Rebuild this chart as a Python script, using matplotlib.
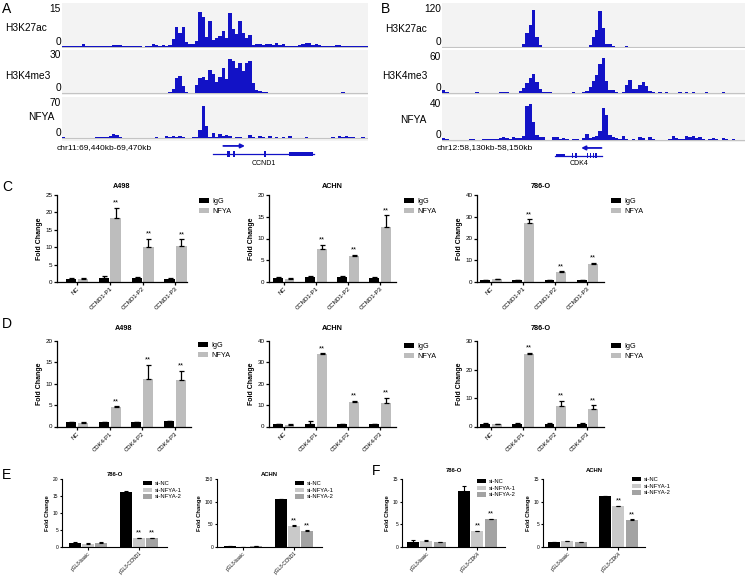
import matplotlib
matplotlib.use('Agg')
import matplotlib.pyplot as plt
import matplotlib.transforms as mtransforms
from matplotlib.patches import Patch, Rectangle
import numpy as np

plt.rcParams['font.family'] = ['Liberation Sans', 'DejaVu Sans']

# ---------------- data: ChIP-seq tracks (binned signal) ----------------
a_h3k27ac = [0.5, 0.3, 0.3, 0.2, 0.3, 0.4, 1.2, 0.4, 0.3, 0.3,
             0.2, 0.3, 0.2, 0.4, 0.5, 0.6, 0.7, 0.8, 0.3, 0.2,
             0.3, 0.2, 0.2, 0.2, 0.1, 0.2, 0.3, 1.2, 0.8, 0.5,
             0.6, 0.5, 0.8, 3.0, 8.0, 5.5, 7.8, 2.0, 1.2, 1.0,
             2.5, 14.0, 12.0, 4.0, 10.4, 2.8, 3.5, 4.5, 6.5, 3.5,
             13.4, 7.0, 5.2, 10.4, 5.5, 3.5, 4.8, 0.8, 1.0, 1.2,
             0.9, 1.0, 1.3, 0.6, 1.4, 0.8, 1.0, 0.5, 0.4, 0.3,
             0.4, 0.6, 1.2, 1.5, 1.7, 0.8, 1.3, 0.6, 0.4, 0.3,
             0.3, 0.5, 0.8, 0.6, 0.3, 0.2, 0.4, 0.2, 0.5, 0.3,
             0.5, 0.4]
a_h3k4me3 = [0.3, 0.2, 0.2, 0.2, 0.2, 0.2, 0.3, 0.2, 0.2, 0.2,
             0.2, 0.2, 0.2, 0.2, 0.2, 0.3, 0.2, 0.2, 0.2, 0.2,
             0.2, 0.2, 0.2, 0.3, 0.2, 0.2, 0.3, 0.2, 0.2, 0.2,
             0.2, 0.2, 0.4, 3.0, 12.0, 13.5, 5.5, 1.0, 0.3, 0.3,
             6.0, 12.0, 13.0, 10.5, 18.0, 15.0, 9.0, 13.0, 19.5, 11.0,
             26.5, 25.0, 19.5, 24.0, 17.0, 23.5, 25.0, 8.0, 2.6, 1.2,
             0.6, 0.4, 0.2, 0.2, 0.3, 0.2, 0.2, 0.2, 0.2, 0.2,
             0.2, 0.2, 0.3, 0.2, 0.2, 0.2, 0.2, 0.2, 0.2, 0.2,
             0.2, 0.2, 0.2, 0.3, 0.8, 0.2, 0.2, 0.2, 0.2, 0.2,
             0.2, 0.2]
a_nfya = [1.5, 0.8, 0.5, 0.3, 0.5, 0.5, 0.3, 0.5, 0.8, 1.0,
          1.2, 1.5, 2.0, 3.0, 5.0, 8.0, 6.0, 2.0, 0.8, 0.5,
          0.5, 0.3, 0.5, 0.5, 0.5, 0.3, 0.5, 1.0, 1.5, 1.0,
          1.0, 5.0, 1.5, 4.0, 2.0, 4.0, 1.5, 0.5, 1.0, 2.0,
          1.5, 16.0, 65.0, 25.0, 2.0, 10.0, 3.0, 8.0, 5.0, 6.5,
          4.0, 1.0, 1.5, 3.0, 1.0, 1.0, 6.5, 3.0, 1.0, 4.5,
          2.0, 1.0, 4.0, 1.0, 3.0, 0.5, 1.5, 0.5, 5.0, 1.0,
          0.5, 0.5, 0.5, 2.0, 0.5, 0.5, 0.5, 1.0, 0.5, 0.5,
          0.5, 2.5, 0.5, 4.0, 1.5, 4.0, 2.0, 3.0, 0.5, 0.5,
          3.0, 1.0]

b_h3k27ac = [0.5, 0, 0, 0, 0, 0, 0, 0, 0, 0,
             0, 0, 0, 0, 0, 0, 0, 0, 0, 0,
             0, 0, 0, 0, 11, 43, 70, 116, 32, 5,
             0, 0, 0, 0, 0, 0, 0, 0, 0, 0,
             0, 0, 0, 0, 5, 32, 54, 113, 60, 11,
             8, 2, 0, 0, 0, 2, 0, 0, 0, 0,
             0, 0, 0, 0, 0, 0, 0, 0, 0, 0,
             0, 0, 0, 0, 0, 0, 0, 0, 0, 0,
             0, 0, 0, 0, 0, 0, 0, 0, 0, 0,
             0]
b_h3k4me3 = [4.4, 1.5, 0, 0, 0, 0, 0, 0, 0, 0,
             1, 0, 0, 0, 0, 0, 0, 1, 1, 1,
             0, 0, 0, 3, 8, 16, 25, 31, 18, 6,
             2, 1.5, 1, 0.5, 0, 0, 0, 0, 0, 1,
             0, 0, 1, 4, 10, 20, 30, 48, 58, 20,
             5.5, 5, 1, 0.5, 1, 14, 22, 7, 6, 13,
             19, 12, 3, 1, 0, 1, 0, 1, 0, 0.5,
             0, 1, 0, 1, 0, 1, 0, 0, 0, 1,
             0, 0, 0, 0, 1, 0, 0, 0, 0, 0,
             0]
b_nfya = [2, 1.5, 0.5, 0, 0, 0, 0, 0.5, 1, 1,
          0.5, 0, 1, 1, 1, 1, 1.5, 2, 3, 2.5,
          1, 3, 2, 2.5, 4.4, 38, 40, 20, 5.5, 3,
          3.5, 0.5, 0, 3, 3, 1, 2, 1.5, 0.5, 1,
          1, 0.5, 2, 6.5, 2, 3, 4, 10, 36, 28,
          6, 3, 2, 1, 4.4, 1.5, 0.5, 1, 0.5, 3,
          2, 0.5, 3, 1, 0.5, 0, 0.5, 0.5, 1, 4.4,
          2.5, 1, 1, 4.8, 3, 4, 2, 3, 1, 0.5,
          1, 2, 1, 0.5, 2, 1.5, 0.5, 1, 0.5, 0.5,
          0.5]

track_names = ['H3K27ac', 'H3K4me3', 'NFYA']
a_scales = [15, 30, 70]
b_scales = [120, 60, 40]
a_region = 'chr11:69,440kb-69,470kb'
b_region = 'chr12:58,130kb-58,150kb'

# gene models (in track-bin units)
ccnd1_span = [45.4, 75.7]
ccnd1_exons = [(49.6, 50.4), (51.3, 52.1), (60.6, 61.3), (68.2, 75.4)]
ccnd1_tss_arrow = [48.5, 55.0]
cdk4_span = [34.0, 48.1]
cdk4_exons = [(34.3, 37.0), (38.9, 39.4), (40.0, 40.5), (43.4, 43.9),
              (44.3, 44.8), (45.2, 45.7), (46.1, 46.6)]
cdk4_tss_arrow = [47.9, 41.8]

# ---------------- data: ChIP-qPCR (C, D) ----------------
ccnd1_sites = ['NC', 'CCND1-P1', 'CCND1-P2', 'CCND1-P3']
cdk4_sites = ['NC', 'CDK4-P1', 'CDK4-P2', 'CDK4-P3']
chip_series = ['IgG', 'NFYA']

c_a498_igg = [1.0, 1.2, 1.1, 1.0]
c_a498_igg_err = [0.1, 0.4, 0.2, 0.15]
c_a498_nfya = [0.9, 18.4, 10.0, 10.3]
c_a498_nfya_err = [0.3, 3.0, 2.5, 2.0]
c_achn_igg = [1.0, 1.1, 1.1, 1.0]
c_achn_igg_err = [0.1, 0.2, 0.2, 0.1]
c_achn_nfya = [0.8, 7.5, 6.0, 12.7]
c_achn_nfya_err = [0.2, 1.0, 0.2, 2.6]
c_786_igg = [1.0, 0.9, 0.9, 0.9]
c_786_igg_err = [0.1, 0.1, 0.1, 0.1]
c_786_nfya = [1.3, 27.0, 4.6, 8.4]
c_786_nfya_err = [0.2, 1.8, 0.3, 0.4]

d_a498_igg = [1.0, 1.0, 1.0, 1.2]
d_a498_igg_err = [0.1, 0.1, 0.1, 0.1]
d_a498_nfya = [0.9, 4.5, 11.2, 10.8]
d_a498_nfya_err = [0.1, 0.2, 3.2, 2.2]
d_achn_igg = [1.0, 1.2, 1.0, 1.1]
d_achn_igg_err = [0.1, 1.5, 0.2, 0.3]
d_achn_nfya = [0.9, 33.8, 11.6, 10.9]
d_achn_nfya_err = [0.3, 0.5, 0.5, 2.6]
d_786_igg = [1.0, 1.0, 1.0, 1.0]
d_786_igg_err = [0.1, 0.1, 0.1, 0.1]
d_786_nfya = [0.8, 25.4, 7.2, 6.3]
d_786_nfya_err = [0.1, 0.4, 1.9, 1.1]

# ---------------- data: luciferase (E, F) ----------------
e_groups = ['pGL3-basic', 'pGL3-CCND1']
f_groups = ['pGL3-basic', 'pGL3-CDK4']
si_series = ['si-NC', 'si-NFYA-1', 'si-NFYA-2']

e_786_sinc = [1.2, 16.3]
e_786_sinc_err = [0.4, 0.15]
e_786_si1 = [1.0, 2.6]
e_786_si1_err = [0.2, 0.1]
e_786_si2 = [1.2, 2.6]
e_786_si2_err = [0.3, 0.1]
e_achn_sinc = [1.2, 105.5]
e_achn_sinc_err = [0.3, 1.0]
e_achn_si1 = [0.8, 46.0]
e_achn_si1_err = [0.3, 1.5]
e_achn_si2 = [1.8, 34.5]
e_achn_si2_err = [0.3, 2.5]

f_786_sinc = [1.2, 12.3]
f_786_sinc_err = [0.25, 1.2]
f_786_si1 = [1.3, 3.5]
f_786_si1_err = [0.3, 0.1]
f_786_si2 = [1.1, 6.1]
f_786_si2_err = [0.1, 0.1]
f_achn_sinc = [1.1, 11.3]
f_achn_sinc_err = [0.05, 0.05]
f_achn_si1 = [1.3, 9.0]
f_achn_si1_err = [0.1, 0.1]
f_achn_si2 = [1.1, 6.0]
f_achn_si2_err = [0.05, 0.1]

# ---------------- layout helpers ----------------
W, H = 750, 579
fig = plt.figure(figsize=(7.5, 5.79), dpi=100)
TRACK_BLUE = '#1212c6'


def rect(x0, y0, x1, y1):
    return [x0 / W, 1 - y1 / H, (x1 - x0) / W, (y1 - y0) / H]


def track(x0, x1, ytop, ybot, ymax_px, yzero_px, vals, vmax):
    ax = fig.add_axes(rect(x0, ytop, x1, ybot))
    per = vmax / (yzero_px - ymax_px)
    ax.set_ylim(-(ybot - yzero_px) * per, vmax + (ymax_px - ytop) * per)
    n = len(vals)
    ax.set_xlim(0, n)
    ax.set_facecolor('#f3f3f3')
    ax.axhline(0, color='#c4c4c4', lw=0.8, zorder=1)
    ax.bar(np.arange(n), vals, width=1.0, align='edge', color=TRACK_BLUE,
           linewidth=0, zorder=2)
    for s in ax.spines.values():
        s.set_visible(False)
    ax.set_xticks([])
    ax.set_yticks([])
    trans = mtransforms.blended_transform_factory(ax.transAxes, ax.transData)
    ax.text(-0.004, vmax, str(vmax), transform=trans, ha='right', va='center',
            fontsize=7.3)
    ax.text(-0.004, 0, '0', transform=trans, ha='right', va='bottom',
            fontsize=7.3)
    return ax


def gene_model(x0, x1, ytop, ybot, nbins, span, exons, arrow, name,
               y_arrow, y_line, y_text, thick_first=False):
    ax = fig.add_axes(rect(x0, ytop, x1, ybot))
    ax.set_xlim(0, nbins)
    ax.set_ylim(0, 1)
    ax.axis('off')
    ax.plot(span, [y_line, y_line], color=TRACK_BLUE, lw=0.9)
    for i, (s, e) in enumerate(exons):
        big = (i == len(exons) - 1) if not thick_first else (i == 0)
        h = 0.13 if big else 0.2
        ax.add_patch(Rectangle((s, y_line - h / 2), e - s, h,
                               color=TRACK_BLUE, lw=0))
    ax.annotate('', xy=(arrow[1], y_arrow), xytext=(arrow[0], y_arrow),
                arrowprops=dict(arrowstyle='-|>', color=TRACK_BLUE, lw=1.3,
                                mutation_scale=6, shrinkA=0, shrinkB=0))
    ax.text(np.mean(span), y_text, name, ha='center', va='center', fontsize=5)
    return ax


# ---------------- panels A and B ----------------
a_tracks = [a_h3k27ac, a_h3k4me3, a_nfya]
b_tracks = [b_h3k27ac, b_h3k4me3, b_nfya]
a_geom = [(3, 48, 9, 47), (50, 95, 55, 93), (97, 141, 103, 138)]
b_geom = [(3, 48, 9, 47), (50, 95, 57, 93), (97, 142, 104, 140)]
a_name_pos = [(5, 28), (5, 76), (28, 117)]
b_name_pos = [(385, 29), (382, 76), (400, 120)]

for vals, vmax, (yt, yb, ym, yz), (nx, ny), nm in zip(a_tracks, a_scales, a_geom,
                                                      a_name_pos, track_names):
    track(62, 368, yt, yb, ym, yz, vals, vmax)
    fig.text(nx / W, 1 - ny / H, nm, ha='left', va='center', fontsize=7.3)
for vals, vmax, (yt, yb, ym, yz), (nx, ny), nm in zip(b_tracks, b_scales, b_geom,
                                                      b_name_pos, track_names):
    track(442, 745, yt, yb, ym, yz, vals, vmax)
    fig.text(nx / W, 1 - ny / H, nm, ha='left', va='center', fontsize=7.3)

gene_model(62, 368, 141, 170, len(a_nfya), ccnd1_span, ccnd1_exons,
           ccnd1_tss_arrow, 'CCND1', 0.83, 0.55, 0.24)
gene_model(442, 745, 141, 170, len(b_nfya), cdk4_span, cdk4_exons,
           cdk4_tss_arrow, 'CDK4', 0.76, 0.50, 0.24, thick_first=True)
fig.text(57 / W, 1 - 148 / H, a_region, ha='left', va='center', fontsize=6)
fig.text(437 / W, 1 - 148 / H, b_region, ha='left', va='center', fontsize=6)


# ---------------- bar panels ----------------
def bar_panel(px, title, cats, vals_list, errs_list, names, colors, yticks,
              xlim, width, offsets, star_series, leg_px, sty, title_pad):
    ax = fig.add_axes(rect(*px))
    x = np.arange(len(cats))
    ytop = yticks[-1]
    for si, (v, e, c, off) in enumerate(zip(vals_list, errs_list, colors, offsets)):
        ax.bar(x + off, v, width=width, color=c, edgecolor='none', zorder=2)
        ax.errorbar(x + off, v, yerr=[np.zeros(len(v)), e], fmt='none',
                    ecolor='black', elinewidth=sty['elw'], capsize=sty['cap'],
                    capthick=sty['elw'], zorder=3)
        if si in star_series:
            for gi in star_series[si]:
                ax.text(x[gi] + off, v[gi] + e[gi] + ytop * 0.015, '**',
                        ha='center', va='bottom', fontsize=sty['star'])
    ax.set_xlim(*xlim)
    ax.set_ylim(0, ytop)
    ax.set_yticks(yticks)
    ax.set_yticklabels([str(t) for t in yticks], fontsize=sty['tick'])
    ax.set_xticks(x)
    ax.set_xticklabels(cats, rotation=45, ha='right', rotation_mode='anchor',
                       fontsize=sty['xtick'])
    for s in ['top', 'right']:
        ax.spines[s].set_visible(False)
    for s in ['left', 'bottom']:
        ax.spines[s].set_linewidth(sty['spine'])
    ax.tick_params(axis='both', direction='out', length=sty['ticklen'],
                   width=sty['spine'], pad=1)
    ax.set_ylabel('Fold Change', fontsize=sty['ylabel'], fontweight='bold',
                  labelpad=sty['labelpad'])
    ax.set_title(title, fontsize=sty['title'], fontweight='bold', pad=title_pad)
    handles = [Patch(facecolor=c, edgecolor='none') for c in colors]
    ax.legend(handles, names, loc='upper left',
              bbox_to_anchor=(leg_px[0] / W, 1 - leg_px[1] / H),
              bbox_transform=fig.transFigure, frameon=False,
              fontsize=sty['legend'], handlelength=sty['hl'],
              handleheight=sty['hh'], handletextpad=0.5,
              labelspacing=sty['ls'], borderpad=0, borderaxespad=0)
    return ax


chip_colors = ['black', '#bdbdbd']
si_colors = ['black', '#c9c9c9', '#a3a3a3']
sty_cd = dict(elw=0.9, cap=1.8, star=5.5, tick=4.5, xtick=4.3, spine=0.9,
              ticklen=2.2, ylabel=5, labelpad=2, title=5.2, legend=5.2,
              hl=1.4, hh=0.7, ls=0.35)
sty_ef = dict(elw=0.8, cap=1.5, star=5.5, tick=3.5, xtick=3.4, spine=0.8,
              ticklen=1.8, ylabel=4.2, labelpad=2, title=4.2, legend=4.2,
              hl=1.6, hh=0.75, ls=0.25)
chip_w = 0.31
chip_off = [-0.18, 0.18]
si_w = 0.235
si_off = [-0.26, 0.0, 0.26]
stars_chip = {1: [1, 2, 3]}
stars_si = {1: [1], 2: [1]}

# C
bar_panel((57, 195, 187, 282), 'A498', ccnd1_sites,
          [c_a498_igg, c_a498_nfya], [c_a498_igg_err, c_a498_nfya_err],
          chip_series, chip_colors, [0, 5, 10, 15, 20, 25], (-0.6, 3.35),
          chip_w, chip_off, stars_chip, (199, 198), sty_cd, 5)
bar_panel((269, 195, 396, 282), 'ACHN', ccnd1_sites,
          [c_achn_igg, c_achn_nfya], [c_achn_igg_err, c_achn_nfya_err],
          chip_series, chip_colors, [0, 5, 10, 15, 20], (-0.46, 3.5),
          chip_w, chip_off, stars_chip, (404, 198), sty_cd, 5)
bar_panel((477, 195, 604, 282), '786-O', ccnd1_sites,
          [c_786_igg, c_786_nfya], [c_786_igg_err, c_786_nfya_err],
          chip_series, chip_colors, [0, 10, 20, 30, 40], (-0.44, 3.52),
          chip_w, chip_off, stars_chip, (611, 198), sty_cd, 5)
# D
bar_panel((57, 341, 191, 426.5), 'A498', cdk4_sites,
          [d_a498_igg, d_a498_nfya], [d_a498_igg_err, d_a498_nfya_err],
          chip_series, chip_colors, [0, 5, 10, 15, 20], (-0.62, 3.5),
          chip_w, chip_off, stars_chip, (198, 342), sty_cd, 8)
bar_panel((269, 341, 396, 426.5), 'ACHN', cdk4_sites,
          [d_achn_igg, d_achn_nfya], [d_achn_igg_err, d_achn_nfya_err],
          chip_series, chip_colors, [0, 10, 20, 30, 40], (-0.46, 3.5),
          chip_w, chip_off, stars_chip, (404, 343), sty_cd, 8)
bar_panel((477, 341, 604, 426.5), '786-O', cdk4_sites,
          [d_786_igg, d_786_nfya], [d_786_igg_err, d_786_nfya_err],
          chip_series, chip_colors, [0, 10, 20, 30], (-0.44, 3.52),
          chip_w, chip_off, stars_chip, (611, 343), sty_cd, 8)
# E
bar_panel((62, 479, 167, 547), '786-O', e_groups,
          [e_786_sinc, e_786_si1, e_786_si2],
          [e_786_sinc_err, e_786_si1_err, e_786_si2_err],
          si_series, si_colors, [0, 5, 10, 15, 20], (-0.51, 1.55),
          si_w, si_off, stars_si, (143, 481), sty_ef, 2)
bar_panel((217, 479, 322, 547), 'ACHN', e_groups,
          [e_achn_sinc, e_achn_si1, e_achn_si2],
          [e_achn_sinc_err, e_achn_si1_err, e_achn_si2_err],
          si_series, si_colors, [0, 50, 100, 150], (-0.51, 1.55),
          si_w, si_off, stars_si, (295, 481), sty_ef, 2)
# F
bar_panel((402, 479, 505, 547), '786-O', f_groups,
          [f_786_sinc, f_786_si1, f_786_si2],
          [f_786_sinc_err, f_786_si1_err, f_786_si2_err],
          si_series, si_colors, [0, 5, 10, 15], (-0.48, 1.54),
          si_w, si_off, stars_si, (477, 479), sty_ef, 5)
bar_panel((543, 479, 645, 547), 'ACHN', f_groups,
          [f_achn_sinc, f_achn_si1, f_achn_si2],
          [f_achn_sinc_err, f_achn_si1_err, f_achn_si2_err],
          si_series, si_colors, [0, 5, 10, 15], (-0.48, 1.52),
          si_w, si_off, stars_si, (632, 477), sty_ef, 5)

# panel letters
for lab, (lx, ly) in zip('ABCDEF', [(2, 2), (381, 2), (2, 180), (2, 317),
                                    (2, 468), (372, 464)]):
    fig.text(lx / W, 1 - ly / H, lab, ha='left', va='top', fontsize=10)

fig.savefig('out.png', dpi=100)
